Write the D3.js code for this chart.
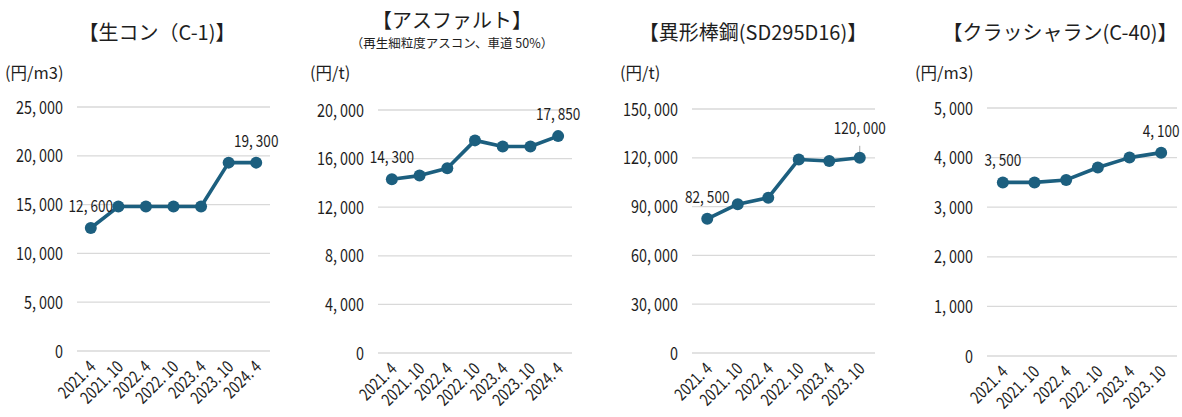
<!DOCTYPE html>
<html>
<head>
<meta charset="utf-8">
<script src="https://cdn.jsdelivr.net/npm/d3@7"></script>
<style>
  html, body { margin: 0; padding: 0; background: #fff; }
  svg { display: block; }
  text { font-family: "Noto Sans CJK JP", "Noto Sans", sans-serif; fill: #1e1e1e; }
</style>
</head>
<body>
<svg id="chart" width="1182" height="417"></svg>
<script>
// ---- data ----
const periods7 = ["2021.4", "2021.10", "2022.4", "2022.10", "2023.4", "2023.10", "2024.4"];
const periods6 = ["2021.4", "2021.10", "2022.4", "2022.10", "2023.4", "2023.10"];

const concreteValues = [12600, 14800, 14800, 14800, 14800, 19300, 19300];
const asphaltValues  = [14300, 14600, 15200, 17500, 17000, 17000, 17850];
const rebarValues    = [82500, 91500, 95500, 119000, 118000, 120000];
const crusherValues  = [3500, 3500, 3550, 3800, 4000, 4100];

const concreteTicks = [0, 5000, 10000, 15000, 20000, 25000];
const asphaltTicks  = [0, 4000, 8000, 12000, 16000, 20000];
const rebarTicks    = [0, 30000, 60000, 90000, 120000, 150000];
const crusherTicks  = [0, 1000, 2000, 3000, 4000, 5000];

const titles    = ["【生コン（C-1)】", "【アスファルト】", "【異形棒鋼(SD295D16)】", "【クラッシャラン(C-40)】"];
const subtitles = ["", "（再生細粒度アスコン、車道 50%）", "", ""];
const units     = ["(円/m3)", "(円/t)", "(円/t)", "(円/m3)"];
// indices of points that carry a value label
const labelled  = [[0, 6], [0, 6], [0, 5], [0, 5]];

// ---- layout of the four panels ----
const panels = [
  { cats: periods7, values: concreteValues, ticks: concreteTicks, left: 77,  right: 270,  top: 107, bottom: 351, titleX: 157,  unitX: 5 },
  { cats: periods7, values: asphaltValues,  ticks: asphaltTicks,  left: 378, right: 572,  top: 110, bottom: 353, titleX: 452,  unitX: 310 },
  { cats: periods6, values: rebarValues,    ticks: rebarTicks,    left: 692, right: 875,  top: 109, bottom: 353, titleX: 753,  unitX: 620 },
  { cats: periods6, values: crusherValues,  ticks: crusherTicks,  left: 987, right: 1177, top: 108, bottom: 356, titleX: 1060, unitX: 915 }
];

const LINE = "#1c5f7f";
const GRID = "#d9d9d9";
const NARROW = 0.8;   // horizontal squeeze for the numeric text
const fmt = d3.format(",");

const svg = d3.select("#chart");

// numeric text with a horizontal squeeze and a little air after "," and "."
function squeezed(sel, x, y, str, size, anchor, rotate) {
  const g = sel.append("g")
    .attr("transform", `translate(${x},${y}) rotate(${rotate || 0}) scale(${NARROW},1)`);
  const t = g.append("text")
    .attr("text-anchor", anchor)
    .attr("font-size", size);
  const parts = str.split(/(?<=[,.])/);
  parts.forEach((s, k) => {
    t.append("tspan").attr("dx", k === 0 ? 0 : size * 0.22).text(s);
  });
  return g;
}

panels.forEach((p, i) => {
  const g = svg.append("g");
  const x = d3.scaleBand().domain(p.cats).range([p.left, p.right]);
  const y = d3.scaleLinear().domain([0, d3.max(p.ticks)]).range([p.bottom, p.top]);
  const cx = d => x(d) + x.bandwidth() / 2;

  // title, subtitle and unit
  g.append("text")
    .attr("x", p.titleX).attr("y", subtitles[i] ? 28 : 40)
    .attr("text-anchor", "middle")
    .attr("font-size", 20)
    .text(titles[i]);
  if (subtitles[i]) {
    g.append("text")
      .attr("x", p.titleX).attr("y", 48)
      .attr("text-anchor", "middle")
      .attr("font-size", 12.5)
      .text(subtitles[i]);
  }
  g.append("text")
    .attr("x", p.unitX).attr("y", 79)
    .attr("font-size", 16.5)
    .text(units[i]);

  // horizontal grid lines
  g.append("g").selectAll("line").data(p.ticks).join("line")
    .attr("x1", p.left).attr("x2", p.right)
    .attr("y1", d => y(d)).attr("y2", d => y(d))
    .attr("stroke", GRID).attr("stroke-width", 1.3);

  // y tick labels
  p.ticks.forEach(t => squeezed(g, p.left - 14, y(t) + 6.5, fmt(t), 18, "end"));

  // x tick labels, rotated
  p.cats.forEach(c => squeezed(g, cx(c) + 6, p.bottom + 17, c, 17, "end", -45));

  // series line and markers
  const line = d3.line().x((d, j) => cx(p.cats[j])).y(d => y(d));
  g.append("path")
    .datum(p.values)
    .attr("d", line)
    .attr("fill", "none")
    .attr("stroke", LINE)
    .attr("stroke-width", 3.6)
    .attr("stroke-linejoin", "round");

  // value labels
  labelled[i].forEach(j => {
    const px = cx(p.cats[j]), py = y(p.values[j]);
    const lift = (i === 2 && j === 5) ? 24 : 16;
    if (lift > 16) {
      g.append("line")
        .attr("x1", px).attr("x2", px)
        .attr("y1", py - lift + 12).attr("y2", py)
        .attr("stroke", "#a6a6a6").attr("stroke-width", 1);
    }
    squeezed(g, px, py - lift, fmt(p.values[j]), 17, "middle");
  });

  g.append("g").selectAll("circle").data(p.values).join("circle")
    .attr("cx", (d, j) => cx(p.cats[j]))
    .attr("cy", d => y(d))
    .attr("r", 6)
    .attr("fill", LINE);
});
</script>
</body>
</html>
